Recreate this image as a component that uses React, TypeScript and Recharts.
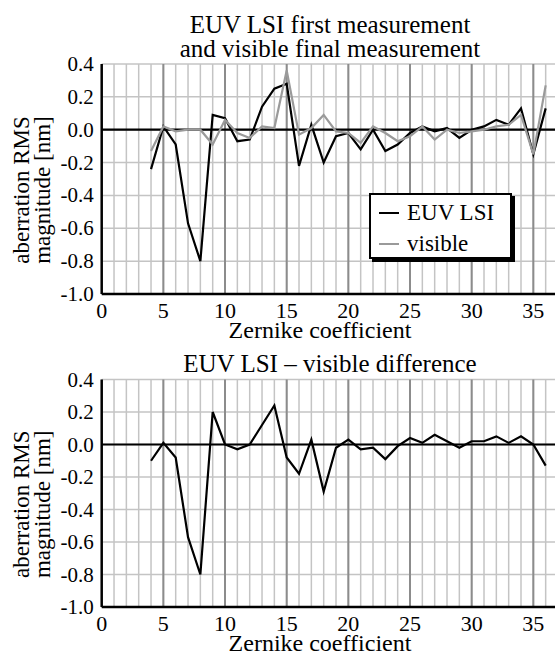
import { LineChart, Line, XAxis, YAxis, CartesianGrid, ReferenceLine } from 'recharts';

// Zernike coefficient numbers
const coeffs = [4, 5, 6, 7, 8, 9, 10, 11, 12, 13, 14, 15, 16, 17, 18, 19, 20, 21, 22, 23, 24, 25, 26, 27, 28, 29, 30, 31, 32, 33, 34, 35, 36];

// top chart
const euvLsi = [-0.24, 0.02, -0.09, -0.57, -0.80, 0.09, 0.07, -0.07, -0.06, 0.14, 0.25, 0.28, -0.22, 0.03, -0.20, -0.04, -0.02, -0.12, 0.00, -0.13, -0.09, -0.02, 0.02, -0.01, 0.01, -0.05, 0.00, 0.02, 0.06, 0.03, 0.13, -0.15, 0.13];
const visible = [-0.13, 0.02, -0.01, 0.00, 0.00, -0.09, 0.06, -0.02, -0.05, 0.02, 0.01, 0.36, -0.03, 0.01, 0.09, -0.01, -0.02, -0.08, 0.02, -0.02, -0.07, -0.04, 0.02, -0.06, 0.00, -0.02, -0.01, 0.00, 0.02, 0.03, 0.09, -0.15, 0.27];

// bottom chart
const difference = [-0.10, 0.01, -0.08, -0.57, -0.80, 0.20, 0.00, -0.03, 0.00, 0.12, 0.24, -0.08, -0.18, 0.03, -0.29, -0.02, 0.03, -0.03, -0.02, -0.09, -0.01, 0.04, 0.01, 0.06, 0.02, -0.02, 0.02, 0.02, 0.05, 0.01, 0.05, 0.00, -0.13];

const xTicks = [0, 1, 2, 3, 4, 5, 6, 7, 8, 9, 10, 11, 12, 13, 14, 15, 16, 17, 18, 19, 20, 21, 22, 23, 24, 25, 26, 27, 28, 29, 30, 31, 32, 33, 34, 35, 36];
const xMajor = [5, 10, 15, 20, 25, 30, 35];
const yTicks = [-1.0, -0.8, -0.6, -0.4, -0.2, 0.0, 0.2, 0.4];

const FONT = '"Liberation Serif", "Times New Roman", serif';
const EUV_COLOR = '#000000';
const VIS_COLOR = '#9a9a9a';

const topData = coeffs.map((k, i) => ({ k, euv: euvLsi[i], vis: visible[i] }));
const bottomData = coeffs.map((k, i) => ({ k, diff: difference[i] }));

// svg text inherits the serif font from the wrapper div
const XTick = ({ x, y, payload }: any) => {
    if (payload.value % 5 !== 0) return <g />;
    return (
        <text x={x} y={y + 24} textAnchor="middle" fontSize={22} fill="#000">
            {payload.value}
        </text>
    );
};

const YTick = ({ x, y, payload }: any) => (
    <text x={x} y={y + 7} textAnchor="end" fontSize={21} fill="#000">
        {Number(payload.value).toFixed(1)}
    </text>
);

const YLabel = ({ viewBox }: any) => {
    const cy = viewBox.y + viewBox.height / 2 + 11;
    return (
        <g fontSize={23} fill="#000" textAnchor="middle">
            <text x={29} y={cy} transform={`rotate(-90 29 ${cy})`}>aberration RMS</text>
            <text x={50} y={cy} transform={`rotate(-90 50 ${cy})`}>magnitude [nm]</text>
        </g>
    );
};

const XLabel = ({ viewBox }: any) => (
    <text x={320} y={viewBox.y + 44} textAnchor="middle" fontSize={24} fill="#000">
        Zernike coefficient
    </text>
);

export default function App() {
    return (
        <div style={{ position: 'absolute', left: 0, top: 0, width: 555, height: 655, overflow: 'hidden', background: '#fff', fontFamily: FONT }}>
            <div style={{ position: 'absolute', left: 0, top: 12.6, width: 660, textAlign: 'center', fontSize: 25, lineHeight: '24px' }}>
                EUV LSI first measurement
                <br />
                and visible final measurement
            </div>
            <div style={{ position: 'absolute', left: 0, top: 0 }}>
                <LineChart width={560} height={348} data={topData} margin={{ top: 64, right: 2, bottom: 0, left: 0 }}>
                    <CartesianGrid stroke="#c4c4c4" strokeWidth={1.5} />
                    {xMajor.map((v) => (
                        <ReferenceLine key={'m' + v} x={v} stroke="#8c8c8c" strokeWidth={2} />
                    ))}
                    <ReferenceLine y={0} stroke="#000" strokeWidth={2.2} />
                    <XAxis type="number" dataKey="k" domain={[0, 37]} ticks={xTicks} interval={0} height={54}
                        tick={<XTick />} tickLine={false} tickSize={0} tickMargin={0}
                        axisLine={{ stroke: '#000', strokeWidth: 2.5 }} label={{ content: <XLabel /> }} allowDataOverflow />
                    <YAxis type="number" domain={[-1, 0.4]} ticks={yTicks} interval={0} width={101.7}
                        tick={<YTick />} tickLine={false} tickSize={0} tickMargin={8}
                        axisLine={{ stroke: '#000', strokeWidth: 2.5 }} label={{ content: <YLabel /> }} allowDataOverflow />
                    <Line type="linear" dataKey="euv" stroke={EUV_COLOR} strokeWidth={2.2} dot={false} isAnimationActive={false} />
                    <Line type="linear" dataKey="vis" stroke={VIS_COLOR} strokeWidth={2.2} dot={false} isAnimationActive={false} />
                </LineChart>
            </div>
            <div style={{ position: 'absolute', left: 369, top: 193, width: 139, height: 62, border: '2px solid #000', boxShadow: '3px 3px 0 #000', background: '#fff', fontSize: 23 }}>
                <div style={{ position: 'absolute', left: 8, top: 4, display: 'flex', alignItems: 'center', lineHeight: '28px' }}>
                    <span style={{ display: 'inline-block', width: 20, height: 2, background: EUV_COLOR, marginRight: 8 }} />
                    EUV LSI
                </div>
                <div style={{ position: 'absolute', left: 8, top: 35, display: 'flex', alignItems: 'center', lineHeight: '28px' }}>
                    <span style={{ display: 'inline-block', width: 20, height: 2, background: VIS_COLOR, marginRight: 8 }} />
                    visible
                </div>
            </div>
            <div style={{ position: 'absolute', left: 0, top: 351.6, width: 660, textAlign: 'center', fontSize: 25, lineHeight: '24px' }}>
                EUV LSI – visible difference
            </div>
            <div style={{ position: 'absolute', left: 0, top: 340 }}>
                <LineChart width={560} height={315} data={bottomData} margin={{ top: 39.5, right: 2, bottom: 0, left: 0 }}>
                    <CartesianGrid stroke="#c4c4c4" strokeWidth={1.5} />
                    {xMajor.map((v) => (
                        <ReferenceLine key={'m' + v} x={v} stroke="#8c8c8c" strokeWidth={2} />
                    ))}
                    <ReferenceLine y={0} stroke="#000" strokeWidth={2.2} />
                    <XAxis type="number" dataKey="k" domain={[0, 37]} ticks={xTicks} interval={0} height={48}
                        tick={<XTick />} tickLine={false} tickSize={0} tickMargin={0}
                        axisLine={{ stroke: '#000', strokeWidth: 2.5 }} label={{ content: <XLabel /> }} allowDataOverflow />
                    <YAxis type="number" domain={[-1, 0.4]} ticks={yTicks} interval={0} width={101.7}
                        tick={<YTick />} tickLine={false} tickSize={0} tickMargin={8}
                        axisLine={{ stroke: '#000', strokeWidth: 2.5 }} label={{ content: <YLabel /> }} allowDataOverflow />
                    <Line type="linear" dataKey="diff" stroke={EUV_COLOR} strokeWidth={2.2} dot={false} isAnimationActive={false} />
                </LineChart>
            </div>
        </div>
    );
}
